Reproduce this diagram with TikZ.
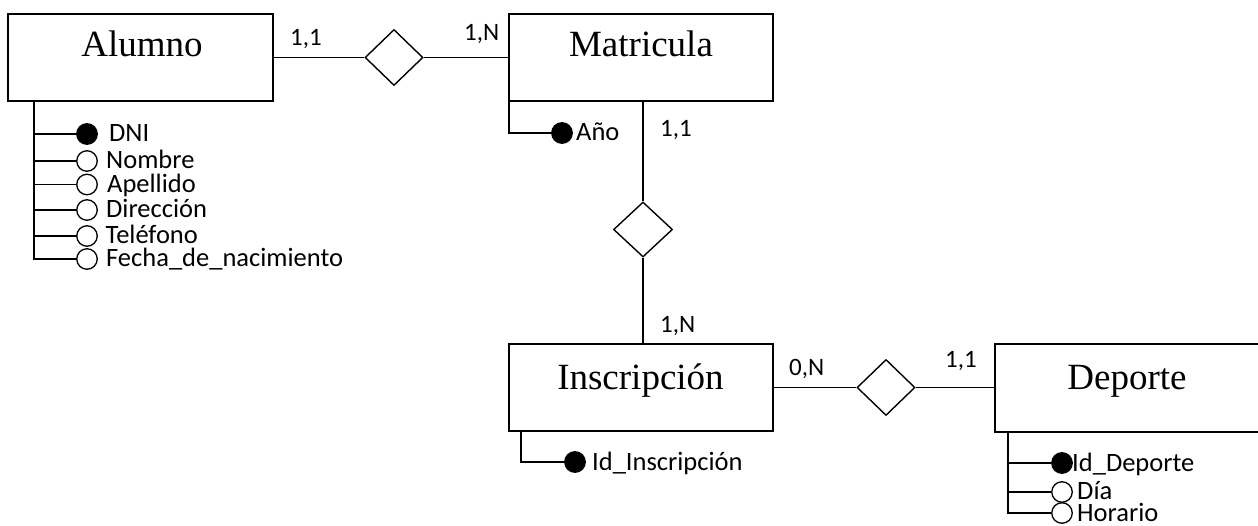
\documentclass[tikz,border=0pt]{standalone}
\usepackage{fontspec}
\setmainfont{Liberation Serif}
\newfontfamily\calfont{Carlito}
\usetikzlibrary{shapes.geometric}
\tikzset{
  entity/.style={draw, rectangle, line width=2.2pt, inner sep=0pt},
  etext/.style={inner sep=0pt, anchor=base, font=\fontsize{37}{40}\selectfont},
  rel/.style={draw, diamond, line width=1.4pt, inner sep=0pt, minimum width=58pt, minimum height=56pt},
  conn/.style={line width=1.4pt},
  keyattr/.style={circle, draw, fill=black, line width=1.3pt, minimum size=20.5pt, inner sep=0pt},
  plainattr/.style={circle, draw, fill=white, line width=1.3pt, minimum size=20.5pt, inner sep=0pt},
  atext/.style={inner sep=0pt, anchor=base west, font=\calfont\fontsize{26.5}{28}\selectfont},
  card/.style={inner sep=0pt, anchor=base west, font=\calfont\fontsize{25}{28}\selectfont}
}
\begin{document}
\begin{tikzpicture}[x=1pt,y=-1pt]
\useasboundingbox (0,0) rectangle (1258,526);
% entities
\node[entity, minimum width=265pt, minimum height=87pt] (alumno) at (140.5,57.5) {};
\node[etext] (alumnoT) at (142,57) {Alumno};
\node[entity, minimum width=264pt, minimum height=87pt] (matricula) at (641,57.5) {};
\node[etext] (matriculaT) at (641,57) {Matricula};
\node[entity, minimum width=264pt, minimum height=87pt] (inscripcion) at (641,387.5) {};
\node[etext] (inscripcionT) at (640.5,389) {Inscripción};
\node[entity, minimum width=266pt, minimum height=88pt] (deporte) at (1128,388) {};
\node[etext] (deporteT) at (1127,389) {Deporte};
% relationships
\node[rel] (d1) at (394,57.5) {};
\node[rel, minimum width=59pt, minimum height=55pt] (d2) at (643,229.5) {};
\node[rel] (d3) at (886,387.5) {};
% connectors
\draw[conn] (alumno.east) -- (d1.west);
\draw[conn] (d1.east) -- (matricula.west);
\draw[conn] (matricula.south -| d2) -- (d2.north);
\draw[conn] (d2.south) -- (inscripcion.north -| d2);
\draw[conn] (inscripcion.east) -- (d3.west);
\draw[conn] (d3.east) -- (deporte.west |- d3);
% cardinalities
\node[card] (c1) at (290,46) {1,1};
\node[card] (c2) at (464,41) {1,N};
\node[card] (c3) at (660,137) {1,1};
\node[card] (c4) at (660,333) {1,N};
\node[card] (c5) at (789,375) {0,N};
\node[card] (c6) at (945,367) {1,1};
% Alumno attributes
\coordinate (aA) at ([xshift=27pt]alumno.south west);
\node[keyattr] (dni) at (87,134) {};
\node[plainattr] (nombre) at (87,161) {};
\node[plainattr] (apellido) at (87,184.5) {};
\node[plainattr] (direccion) at (87,210) {};
\node[plainattr] (telefono) at (87,236) {};
\node[plainattr] (fecha) at (87,259) {};
\draw[conn] (aA) |- (fecha.west);
\draw[conn] (aA |- dni) -- (dni.west);
\draw[conn] (aA |- nombre) -- (nombre.west);
\draw[conn] (aA |- apellido) -- (apellido.west);
\draw[conn] (aA |- direccion) -- (direccion.west);
\draw[conn] (aA |- telefono) -- (telefono.west);
\node[atext] (tdni) at (109,142) {DNI};
\node[atext] (tnombre) at (106,169) {Nombre};
\node[atext] (tapellido) at (107,192.5) {Apellido};
\node[atext] (tdireccion) at (106,218) {Dirección};
\node[atext] (ttelefono) at (105.5,244) {Teléfono};
\node[atext] (tfecha) at (106,267) {Fecha\_de\_nacimiento};
% Matricula attribute
\coordinate (mA) at ([xshift=1pt]matricula.south west);
\node[keyattr] (anio) at (562,133) {};
\draw[conn] (mA) |- (anio.west);
\node[atext] (tanio) at (576,141) {Año};
% Inscripcion attribute
\coordinate (iA) at ([xshift=13pt]inscripcion.south west);
\node[keyattr] (idins) at (575,462) {};
\draw[conn] (iA) |- (idins.west);
\node[atext] (tidins) at (592,470) {Id\_Inscripción};
% Deporte attributes
\coordinate (dA) at ([xshift=14pt]deporte.south west);
\node[keyattr] (iddep) at (1062,463) {};
\node[plainattr] (dia) at (1062,492) {};
\node[plainattr] (horario) at (1062,513) {};
\draw[conn] (dA) |- (horario.west);
\draw[conn] (dA |- iddep) -- (iddep.west);
\draw[conn] (dA |- dia) -- (dia.west);
\node[atext] (tiddep) at (1072,471) {Id\_Deporte};
\node[atext] (tdia) at (1077,499.5) {Día};
\node[atext] (thorario) at (1077,521.5) {Horario};
\end{tikzpicture}
\end{document}
